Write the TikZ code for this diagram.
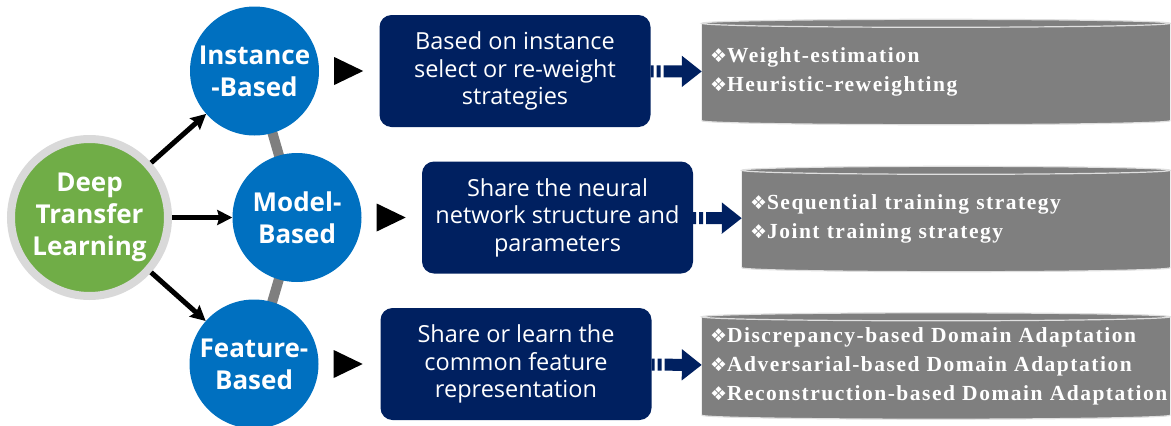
\documentclass[tikz,border=0pt]{standalone}
\usepackage{fontspec}
\setmainfont{Open Sans}
\newfontfamily\listfont[LetterSpace=7]{Liberation Serif}
\newfontfamily\symfont{DejaVu Sans}
\usepackage{tikz}
\usetikzlibrary{arrows.meta,backgrounds,calc}
\definecolor{dtgreen}{HTML}{70AD47}
\definecolor{dtring}{HTML}{D9D9D9}
\definecolor{dtblue}{HTML}{0070C0}
\definecolor{dtnavy}{HTML}{002060}
\definecolor{dtgray}{HTML}{7F7F7F}
\newcommand{\itm}{{\symfont\fontsize{19}{19}\selectfont ❖}}

\begin{document}
\begin{tikzpicture}[x=1pt,y=-1pt,
  root/.style={circle,fill=dtgreen,draw=dtring,line width=8pt,minimum size=157pt,inner sep=0pt,text=white,align=center,font=\bfseries\fontsize{26}{32}\selectfont},
  method/.style={circle,fill=dtblue,minimum size=129pt,inner sep=0pt,text=white,align=center,font=\bfseries\fontsize{26}{32}\selectfont},
  idea/.style={rectangle,rounded corners=12pt,fill=dtnavy,text=white,minimum width=271pt,minimum height=112pt,inner sep=0pt,align=center,font=\fontsize{23.5}{27.5}\selectfont},
  drum/.style={rectangle,minimum height=97pt,inner xsep=8pt,inner ysep=0pt,align=left,text=white,font=\listfont\bfseries\fontsize{21.5}{29}\selectfont},
  ar/.style={-{Stealth[length=15pt,width=15pt,inset=2pt]},line width=5pt},
  stripe/.style={dtnavy,line width=12pt,dash pattern=on 3pt off 3pt on 4pt off 3pt on 200pt,-{Triangle[length=20pt,width=30pt]}},
  link/.style={dtgray,line width=10pt},
  rim/.style={draw=white!75!dtgray,line width=1.2pt}]
\useasboundingbox (0,0) rectangle (1171,426);
% root and the three kinds
\node[root] (dtl) at (89.5,217.5) {Deep\\Transfer\\Learning};
\node[method] (ib) at (254.5,71) {Instance\\-Based};
\node[method] (mb) at (297,217.5) {Model-\\Based};
\node[method] (fb) at (254,364) {Feature-\\Based};
\draw[ar] (dtl)--(ib); \draw[ar] (dtl)--(mb); \draw[ar] (dtl)--(fb);
\foreach \m in {ib,mb,fb}
  \fill ($(\m.east)+(15,-14)$) -- ++(29,14) -- ++(-29,14) -- cycle;
% what is shared
\node[idea] (ibx) at (515,71) {Based on instance\\select or re-weight\\strategies};
\node[idea] (mbx) at (557.5,217.5) {Share the neural\\network structure and\\parameters};
\node[idea] (fbx) at (516,364) {Share or learn the\\common feature\\representation};
% methods
\node[drum,text width=452pt] (ibl) at (936,72) {\itm Weight-estimation\\\itm Heuristic-reweighting};
\node[drum,text width=412pt] (mbl) at (956,219) {\itm Sequential training strategy\\\itm Joint training strategy};
\node[drum,text width=452pt,minimum height=98pt] (fbl) at (936,366) {\itm Discrepancy-based Domain Adaptation\\\itm Adversarial-based Domain Adaptation\\\itm Reconstruction-based Domain Adaptation};
\draw[stripe] (ibx)--(ibl); \draw[stripe] (mbx)--(mbl); \draw[stripe] (fbx)--(fbl);
\begin{scope}[on background layer]
  \draw[link] (ib.center)--(mb.center)--(fb.center);
  \foreach \d in {ibl,mbl,fbl}{
    \fill[dtgray] let \p1=(\d.west), \p2=(\d.east), \n1={(\x2-\x1)/2} in
      (\d.north west) -- (\d.south west) arc[start angle=180,end angle=360,x radius=\n1,y radius=4pt]
      -- (\d.north east) arc[start angle=0,end angle=180,x radius=\n1,y radius=4pt] -- cycle;
    \path[rim] let \p1=(\d.west), \p2=(\d.east), \n1={(\x2-\x1)/2} in
      (\d.north) ellipse[x radius=\n1,y radius=4pt]
      (\d.south west) arc[start angle=180,end angle=360,x radius=\n1,y radius=4pt];
  }
\end{scope}
\end{tikzpicture}
\end{document}
